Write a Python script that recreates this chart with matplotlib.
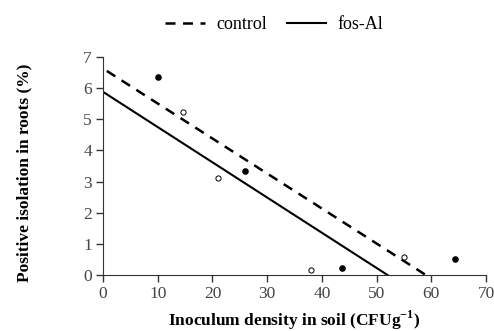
import matplotlib
matplotlib.use('Agg')
import matplotlib.pyplot as plt

# observed points
control_x = [10, 26, 43.7, 64.3]
control_y = [6.35, 3.35, 0.22, 0.5]
fos_x = [14.7, 21, 38, 55]
fos_y = [5.22, 3.1, 0.15, 0.58]

# fitted trend lines (end points)
control_line_x = [0.7, 59]
control_line_y = [6.55, 0]
fos_line_x = [0, 52]
fos_line_y = [5.88, 0]

x_ticks = [0, 10, 20, 30, 40, 50, 60, 70]
y_ticks = [0, 1, 2, 3, 4, 5, 6, 7]

plt.rcParams['font.family'] = ['Liberation Serif', 'DejaVu Serif']

fig = plt.figure(figsize=(4.94, 3.31), dpi=100)
ax = fig.add_axes([0.2085, 0.169, 0.7755, 0.659])

ax.plot(control_line_x, control_line_y, color='black', linestyle=(0, (4, 3)), lw=1.8, label='control')
ax.plot(fos_line_x, fos_line_y, color='black', linestyle='-', lw=1.5, label='fos-Al')
ax.scatter(control_x, control_y, s=14, color='black', zorder=3)
ax.scatter(fos_x, fos_y, s=14, facecolor='white', edgecolor='black', linewidths=0.7, zorder=3)

ax.set_xlim(0, 70)
ax.set_ylim(0, 7)
ax.set_xticks(x_ticks)
ax.set_yticks(y_ticks)
ax.tick_params(labelsize=12.5, length=5, width=1, pad=3, colors='#333333', labelcolor='#444444')
for side in ['top', 'right']:
    ax.spines[side].set_visible(False)
for side in ['left', 'bottom']:
    ax.spines[side].set_color('#333333')

ax.set_xlabel('Inoculum density in soil (CFUg$^{\\mathregular{-1}}$)', fontsize=12.5, fontweight='bold', labelpad=5)
ax.set_ylabel('Positive isolation in roots (%)', fontsize=12.5, fontweight='bold')
ax.yaxis.set_label_coords(-0.185, 0.47)

fig.legend(loc='upper center', bbox_to_anchor=(0.555, 1.0), ncol=2, frameon=False,
           fontsize=13, handlelength=2.2, handletextpad=0.6, columnspacing=1.1)

fig.savefig('out.png', dpi=100)
